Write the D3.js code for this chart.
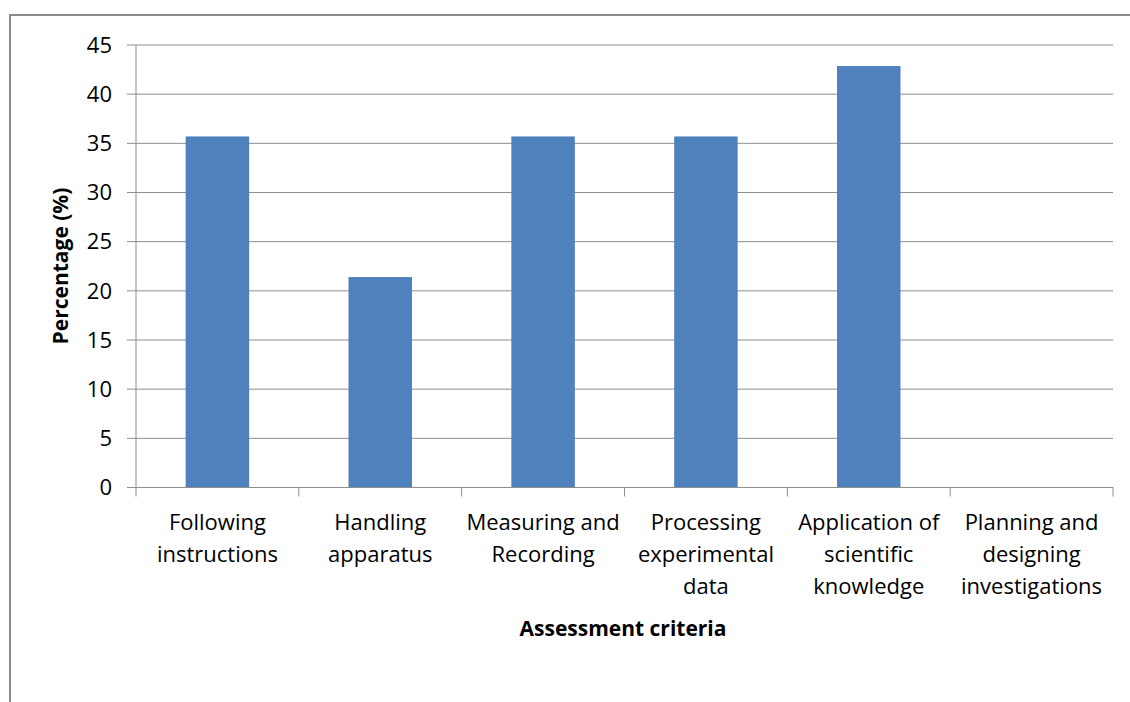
<!DOCTYPE html>
<html>
<head>
<meta charset="utf-8">
<script src="https://cdnjs.cloudflare.com/ajax/libs/d3/7.8.5/d3.min.js"></script>
<style>
  body { margin: 0; background: #fff; }
  text { font-family: "Open Sans", "Noto Sans", sans-serif; fill: #000; }
</style>
</head>
<body>
<div id="chart"></div>
<script>
var categories = [
    ['Following', 'instructions'],
    ['Handling', 'apparatus'],
    ['Measuring and', 'Recording'],
    ['Processing', 'experimental', 'data'],
    ['Application of', 'scientific', 'knowledge'],
    ['Planning and', 'designing', 'investigations']
];
var values = [35.7, 21.4, 35.7, 35.7, 42.86, 0];
var yTicks = [0, 5, 10, 15, 20, 25, 30, 35, 40, 45];

(function () {
    var width = 1130,
        height = 702;

    var svg = d3.select('#chart')
        .append('svg')
        .attr('width', width)
        .attr('height', height);

    // outer frame
    svg.append('rect')
        .attr('x', 10)
        .attr('y', 15)
        .attr('width', 1140)
        .attr('height', 720)
        .attr('fill', 'none')
        .attr('stroke', '#8c8c8c')
        .attr('stroke-width', 2);

    var plotLeft = 136, plotRight = 1113, plotTop = 45, plotBottom = 487.5;

    var x = d3.scaleBand()
        .domain(d3.range(categories.length))
        .range([plotLeft, plotRight])
        .paddingInner(0.61)
        .paddingOuter(0.305);

    var xOuter = d3.scaleBand()
        .domain(d3.range(categories.length))
        .range([plotLeft, plotRight]);

    var y = d3.scaleLinear()
        .domain([0, 45])
        .range([plotBottom, plotTop]);

    // gridlines
    svg.append('g')
        .selectAll('line')
        .data(yTicks)
        .enter()
        .append('line')
        .attr('x1', plotLeft - 9)
        .attr('x2', plotRight)
        .attr('y1', function (d) { return y(d); })
        .attr('y2', function (d) { return y(d); })
        .attr('stroke', '#8e8e8e')
        .attr('stroke-width', 1);

    // y tick labels
    svg.append('g')
        .selectAll('text')
        .data(yTicks)
        .enter()
        .append('text')
        .attr('x', 112)
        .attr('y', function (d) { return y(d); })
        .attr('dy', '0.35em')
        .attr('text-anchor', 'end')
        .style('font-size', '22px')
        .text(function (d) { return d; });

    // bars
    svg.append('g')
        .selectAll('rect')
        .data(values)
        .enter()
        .append('rect')
        .attr('x', function (d, i) { return x(i); })
        .attr('width', x.bandwidth())
        .attr('y', function (d) { return y(d); })
        .attr('height', function (d) { return y(0) - y(d); })
        .attr('fill', '#4f81bd');

    // y axis line
    svg.append('line')
        .attr('x1', plotLeft).attr('x2', plotLeft)
        .attr('y1', plotTop).attr('y2', plotBottom)
        .attr('stroke', '#8e8e8e');

    // x axis line + ticks
    svg.append('line')
        .attr('x1', plotLeft).attr('x2', plotRight)
        .attr('y1', plotBottom).attr('y2', plotBottom)
        .attr('stroke', '#8e8e8e');

    var tickPos = d3.range(categories.length).map(function (i) { return xOuter(i); }).concat([plotRight]);
    svg.append('g')
        .selectAll('line')
        .data(tickPos)
        .enter()
        .append('line')
        .attr('x1', function (d) { return d; })
        .attr('x2', function (d) { return d; })
        .attr('y1', plotBottom)
        .attr('y2', plotBottom + 9)
        .attr('stroke', '#8e8e8e');

    // category labels
    var labels = svg.append('g')
        .selectAll('text')
        .data(categories)
        .enter()
        .append('text')
        .attr('text-anchor', 'middle')
        .attr('x', function (d, i) { return xOuter(i) + xOuter.bandwidth() / 2; })
        .attr('y', 530)
        .style('font-size', '22px');

    labels.selectAll('tspan')
        .data(function (d) { return d; })
        .enter()
        .append('tspan')
        .attr('x', function () { return d3.select(this.parentNode).attr('x'); })
        .attr('dy', function (d, i) { return i === 0 ? 0 : 32; })
        .text(function (d) { return d; });

    // axis titles
    svg.append('text')
        .attr('x', 623)
        .attr('y', 636)
        .attr('text-anchor', 'middle')
        .style('font-size', '21px')
        .style('font-weight', 'bold')
        .text('Assessment criteria');

    svg.append('text')
        .attr('transform', 'translate(68,266) rotate(-90)')
        .attr('text-anchor', 'middle')
        .style('font-size', '21px')
        .style('font-weight', 'bold')
        .text('Percentage (%)');
})();
</script>
</body>
</html>
